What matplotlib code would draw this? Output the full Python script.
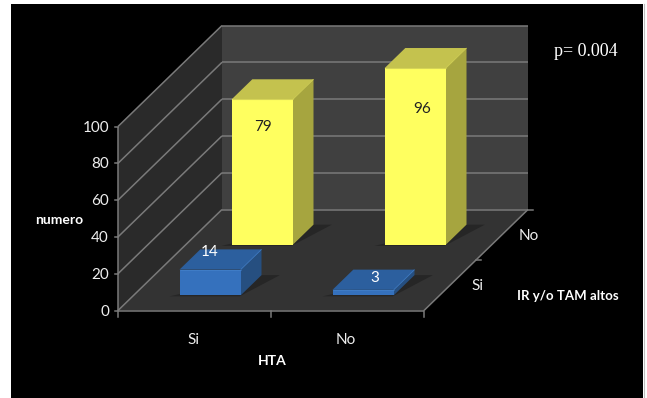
import matplotlib
matplotlib.use('Agg')
import matplotlib.pyplot as plt
from matplotlib.patches import Polygon, Rectangle

# Datos
hta = ['Si', 'No']
ir_tam = ['Si', 'No']
valores = [[14, 3], [79, 96]]  # filas: IR y/o TAM, columnas: HTA
ticks_z = [0, 20, 40, 60, 80, 100]

plt.rcParams['font.family'] = ['Lato', 'DejaVu Sans']

fig = plt.figure(figsize=(6.47, 3.98), dpi=100, facecolor='white')
ax = fig.add_axes([0, 0, 1, 1])
ax.set_xlim(0, 647)
ax.set_ylim(398, 0)
ax.axis('off')


# proyeccion oblicua: x categoria, d profundidad, v valor -> pixel
def proy(x, d, v):
    return (118 + 153 * x + 52 * d, 310.5 - 1.84 * v - 50.5 * d)


def cara(puntos, color, zorder):
    ax.add_patch(Polygon([proy(*p) for p in puntos], closed=True, facecolor=color,
                         edgecolor='none', zorder=zorder))


def linea(p1, p2, color='#7a7a7a', lw=1.1, zorder=2):
    a, b = proy(*p1), proy(*p2)
    ax.plot([a[0], b[0]], [a[1], b[1]], color=color, lw=lw, zorder=zorder, solid_capstyle='butt')


def barra(x0, d0, v, frente, arriba, lado, borde, z):
    x1, d1 = x0 + 0.4, d0 + 0.4
    # sombra en el piso
    cara([(x0 - 0.06, d0 - 0.02, 0), (x1, d0 - 0.02, 0), (x1 + 0.12, d1, 0), (x1, d1, 0)], '#262626', z)
    cara([(x0, d0, 0), (x1, d0, 0), (x1, d0, v), (x0, d0, v)], frente, z + 0.3)
    cara([(x0, d0, v), (x1, d0, v), (x1, d1, v), (x0, d1, v)], arriba, z + 0.2)
    cara([(x1, d0, 0), (x1, d1, 0), (x1, d1, v), (x1, d0, v)], lado, z + 0.2)
    # bisel
    linea((x0, d0, v), (x1, d0, v), borde, 0.8, z + 0.4)
    linea((x1, d0, v), (x1, d1, v), borde, 0.6, z + 0.4)


# fondo negro de la diapositiva
ax.add_patch(Rectangle((11, 4), 632, 394, facecolor='black', edgecolor='none', zorder=0))
ax.plot([643.5, 643.5], [4, 398], color='#bdbdbd', lw=0.8, zorder=0)

# paredes y piso
cara([(0, 2, 0), (2, 2, 0), (2, 2, 100), (0, 2, 100)], '#404040', 1)
cara([(0, 0, 0), (0, 2, 0), (0, 2, 100), (0, 0, 100)], '#2a2a2a', 1)
cara([(0, 0, 0), (2, 0, 0), (2, 2, 0), (0, 2, 0)], '#333333', 1)

for t in ticks_z:
    linea((0, 0, t), (0, 2, t))
    linea((0, 2, t), (2, 2, t))
    a = proy(0, 0, t)
    ax.plot([a[0] - 3.5, a[0]], [a[1], a[1]], color='#7a7a7a', lw=1.1, zorder=2)
    ax.text(a[0] - 9, a[1] + 1, str(t), color='#eeeeee', fontsize=11, ha='right', va='center', zorder=6)
linea((0, 0, 0), (0, 0, 100))
linea((0, 0, 0), (2, 0, 0))
linea((2, 0, 0), (2, 2, 0))

# marcas de los ejes
for x in [0, 1, 2]:
    a = proy(x, 0, 0)
    ax.plot([a[0], a[0]], [a[1], a[1] + 6], color='#7a7a7a', lw=1.1, zorder=2)
for d in [1, 2]:
    a = proy(2, d, 0)
    ax.plot([a[0], a[0] + 5], [a[1], a[1]], color='#7a7a7a', lw=1.1, zorder=2)

# barras, de atras hacia adelante
colores = [('#3571bd', '#2c5f9e', '#264f80', '#3f7cc6'),
           ('#ffff5f', '#c4c24e', '#a6a53f', '#d6d456')]
for i in [1, 0]:
    for j in range(2):
        f, ar, la, bo = colores[i]
        barra(j + 0.3, i + 0.3, valores[i][j], f, ar, la, bo, 3 + (1 - i))

# etiquetas de los valores
pos_etiquetas = {(0, 0): (210, 252), (0, 1): (375, 278), (1, 0): (263, 127), (1, 1): (422, 109)}
for (i, j), (px, py) in pos_etiquetas.items():
    c = 'white' if i == 0 else '#222222'
    ax.text(px, py, str(valores[i][j]), color=c, fontsize=11, ha='center', va='center', zorder=7)

# categorias
for j, nombre in enumerate(hta):
    a = proy(j + 0.5, 0, 0)
    ax.text(a[0] - 1.5, a[1] + 29, nombre, color='#eeeeee', fontsize=11, ha='center', va='center')
for i, nombre in enumerate(ir_tam):
    a = proy(2, i + 0.5, 0)
    ax.text(a[0] + 27, a[1] + 1, nombre, color='#eeeeee', fontsize=11, ha='center', va='center')

ax.text(272, 361, 'HTA', color='white', fontsize=10, fontweight='bold', ha='center', va='center')
ax.text(59, 220, 'numero', color='white', fontsize=10, fontweight='bold', ha='center', va='center')
ax.text(568, 296, 'IR y/o TAM altos', color='white', fontsize=9.5, fontweight='bold', ha='center', va='center')
ax.text(586, 51, 'p= 0.004', color='white', fontsize=13, family='Liberation Serif', ha='center', va='center')

fig.savefig('out.png', dpi=100, facecolor='white')
